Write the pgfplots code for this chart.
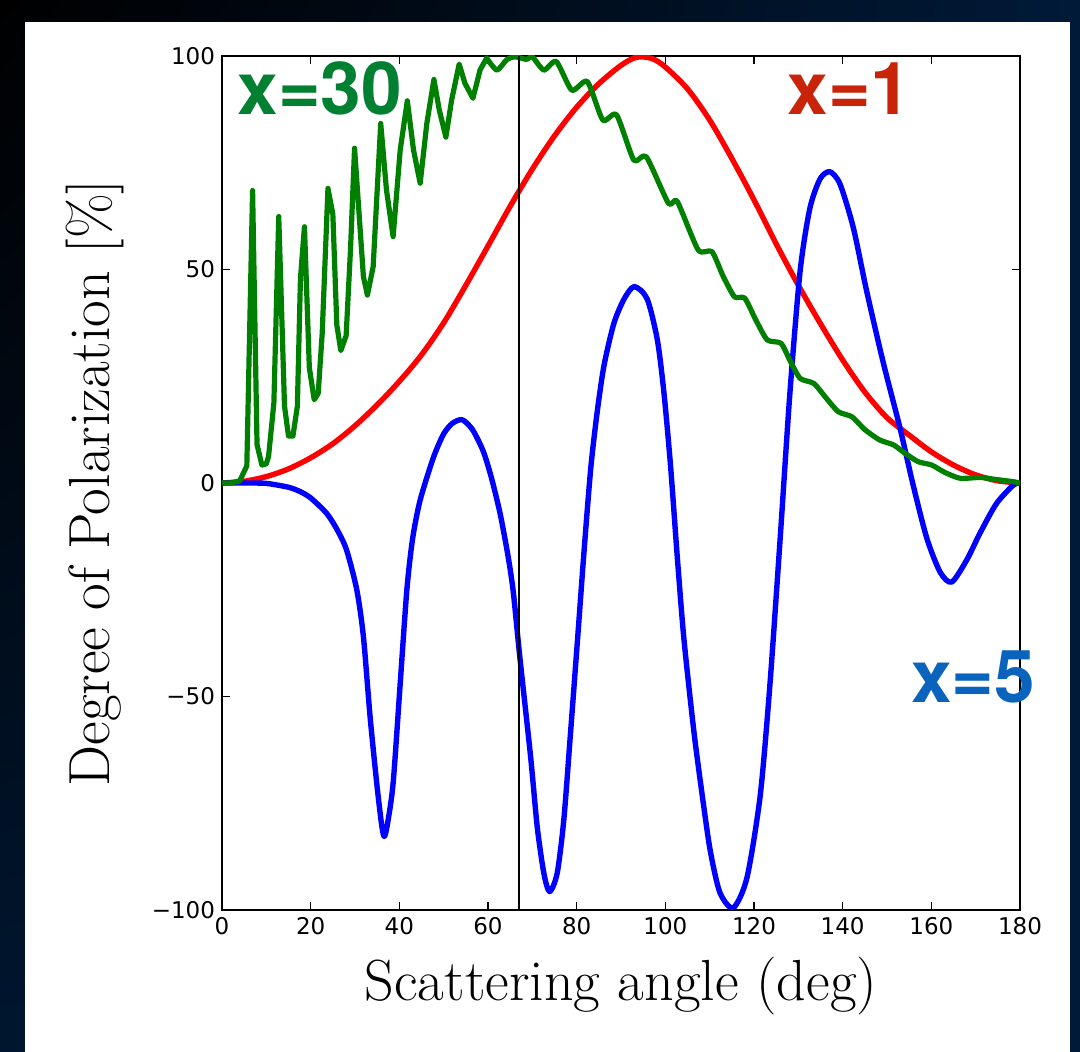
\documentclass[border=0pt]{standalone}
\usepackage{fontspec}
\usepackage{pgfplots}
\pgfplotsset{compat=1.18}
\usetikzlibrary{shadings}
\newfontfamily\dejavu{DejaVu Sans}
\newfontfamily\heros{TeX Gyre Heros}
\definecolor{bgnavy}{RGB}{0,26,56}
\definecolor{lblgreen}{RGB}{0,128,48}
\definecolor{lblred}{RGB}{200,36,10}
\definecolor{lblblue}{RGB}{10,100,190}
\definecolor{mplgreen}{RGB}{0,128,0}
\begin{document}
\begin{tikzpicture}
\shade[upper left=black, upper right=bgnavy, lower left=bgnavy!85!black, lower right=bgnavy] (-111pt,-71pt) rectangle (429pt,455pt);
\fill[white] (-98.5pt,-71pt) rectangle (424pt,444pt);
\begin{axis}[at={(0pt,0pt)}, anchor=south west, scale only axis,
  width=399pt, height=427pt,
  xmin=0, xmax=180, ymin=-100, ymax=100,
  xtick={0,20,...,180}, ytick={-100,-50,0,50,100},
  xticklabels={0,20,40,60,80,100,120,140,160,180},
  yticklabels={−100,−50,0,50,100},
  tick align=inside, tick pos=both, major tick length=4pt,
  axis line style={line width=0.9pt},
  tick style={black, line width=0.7pt},
  ticklabel style={font=\dejavu\fontsize{11.5}{13}\selectfont},
  xlabel={Scattering angle (deg)},
  ylabel={Degree of Polarization [\%]},
  every axis x label/.style={at={(axis description cs:0.5,-0.1054)}, anchor=base, font=\fontsize{29}{34}\selectfont},
  every axis y label/.style={at={(axis description cs:-0.1404,0.5)}, rotate=90, anchor=base, font=\fontsize{29}{34}\selectfont},
  clip mode=individual,
]
\addplot[red, line width=2.7pt, smooth, line join=round] coordinates {
(0,0)(5,0.4)(10,1.5)(15,3.3)(20,5.9)(25,9.2)(30,13.4)(35,18.3)(40,23.8)(45,30)(50,37.5)(55,46.3)(60,55.5)(65,64.8)(70,73.5)(75,81.3)(80,88)(85,93.5)(90,97.8)(93.5,99.7)(97,99.4)(100,97.4)(105,92.3)(110,85)(115,76)(120,66.3)(125,56)(130,46.3)(135,37.3)(140,28.8)(145,21.3)(150,15.3)(155,11.2)(160,7.3)(165,4.2)(170,1.9)(175,0.5)(180,0)
};
\addplot[blue, line width=2.7pt, smooth, tension=0.45, line join=round] coordinates {
(0,0)(5,0)(10,-0.1)(15,-1)(17.6,-2)(20,-3.5)(23.6,-7.1)(26,-11)(28.1,-15.7)(30.4,-25)(31.9,-36)(33.4,-54.7)(34.9,-70.3)(36.0,-80)(36.6,-82.8)(37.3,-80)(38.6,-70.3)(40.2,-46.9)(41.7,-25)(43.0,-13)(44.7,-4)(47.7,6)(50,11.5)(52,14)(54.2,14.8)(56.5,12.5)(58.9,7.5)(60.7,1.5)(62.7,-7)(64.5,-17)(65.7,-25.5)(67.2,-41)(69.6,-64)(71.1,-80.5)(72.6,-91.4)(73.9,-95.7)(75.6,-91.4)(77.1,-78.9)(78.6,-58.7)(80.2,-36.6)(81.7,-15.5)(83.2,3.7)(84.7,17.2)(86.2,27.7)(88.4,37.4)(90.7,43.1)(93.0,46)(95.9,43.1)(98.2,33.5)(99.7,21)(101.2,3.7)(102.7,-17.4)(104.2,-36.6)(106.5,-58.7)(108.7,-76)(110.2,-86.5)(112.3,-95.9)(115.3,-99.5)(118.4,-92.5)(121.4,-73.2)(123.6,-47.1)(125.9,-13)(128.1,21.1)(130.4,49.6)(132.6,64.3)(134.9,71.2)(137.1,72.9)(139.4,70)(142.4,59.8)(145.4,45)(149.2,28)(152.9,13)(155.9,-0.5)(159,-13)(162,-20.9)(164.6,-23.2)(168,-18)(171,-11.7)(174.7,-4.8)(178.5,-0.5)(180,0)
};
\addplot[mplgreen, line width=2.6pt, line join=round, line cap=round] coordinates {
(0,0)(2,0)(4,0.5)(5.6,4)(6.9,68.5)(7.9,9)(9.0,4.2)(10.0,4.5)(10.5,6.2)(11.7,18.7)(12.8,62.4)(14.1,18)(15.0,11)(16.0,11)(17.0,18)(17.7,48)(18.6,60)(19.7,27)(20.8,19.5)(21.7,21)(22.6,35)(23.9,69)(25.0,63)(25.9,37)(26.8,31)(28.0,34.5)(29.0,55)(29.9,78.4)(31.9,48.3)(32.8,44)(34.1,50.7)(35.8,84.2)(37.1,68.6)(38.6,57.7)(40.2,78)(41.8,89.5)(43.2,78)(44.7,70.2)(46.2,84.2)(47.8,94.5)(49.0,87.4)(50.5,81)(51.8,89.7)(53.5,98.1)(54.8,93.6)(56.6,90.1)(58.2,96.7)(59.7,99.5)
};
\addplot[mplgreen, line width=2.6pt, smooth, tension=0.4, line join=round, line cap=round] coordinates {
(59.7,99.5)(62.0,96.7)(64.2,99.1)(66.1,99.8)(68.7,99.2)(70,99.8)(72.6,96.7)(75.4,98.7)(78.9,92)(82.4,94)(85.9,85)(89.0,86.2)(92.9,75.6)(95.7,76.4)(100.7,65.5)(102.7,65.9)(107.4,54.6)(110.5,54.2)(113,48.5)(115.6,43.6)(117.9,43.3)(120.5,38)(123,33.5)(126.1,32.7)(128.2,28.5)(130.4,24.5)(133.5,23.3)(136.2,20)(139,16.7)(142.1,15.5)(145,12.5)(148.3,10.1)(151.5,8.9)(154,7)(157,5)(160.1,4.2)(163,2.5)(166.5,1.1)(171,1.3)(174,0.9)(178.5,0.3)(180,0)
};
\addplot[black, line width=1.1pt] coordinates {(67,-100)(67,100)};
\node[anchor=base west, inner sep=0pt, text=lblgreen, font=\heros\bfseries\fontsize{36.5}{42}\selectfont] at (axis cs:3.4,86.2) {x=30};
\node[anchor=base west, inner sep=0pt, text=lblred, font=\heros\bfseries\fontsize{36.5}{42}\selectfont] at (axis cs:127.5,86.2) {x=1};
\node[anchor=base west, inner sep=0pt, text=lblblue, font=\heros\bfseries\fontsize{36.5}{42}\selectfont] at (axis cs:155.4,-51.3) {x=5};
\end{axis}
\end{tikzpicture}
\end{document}
